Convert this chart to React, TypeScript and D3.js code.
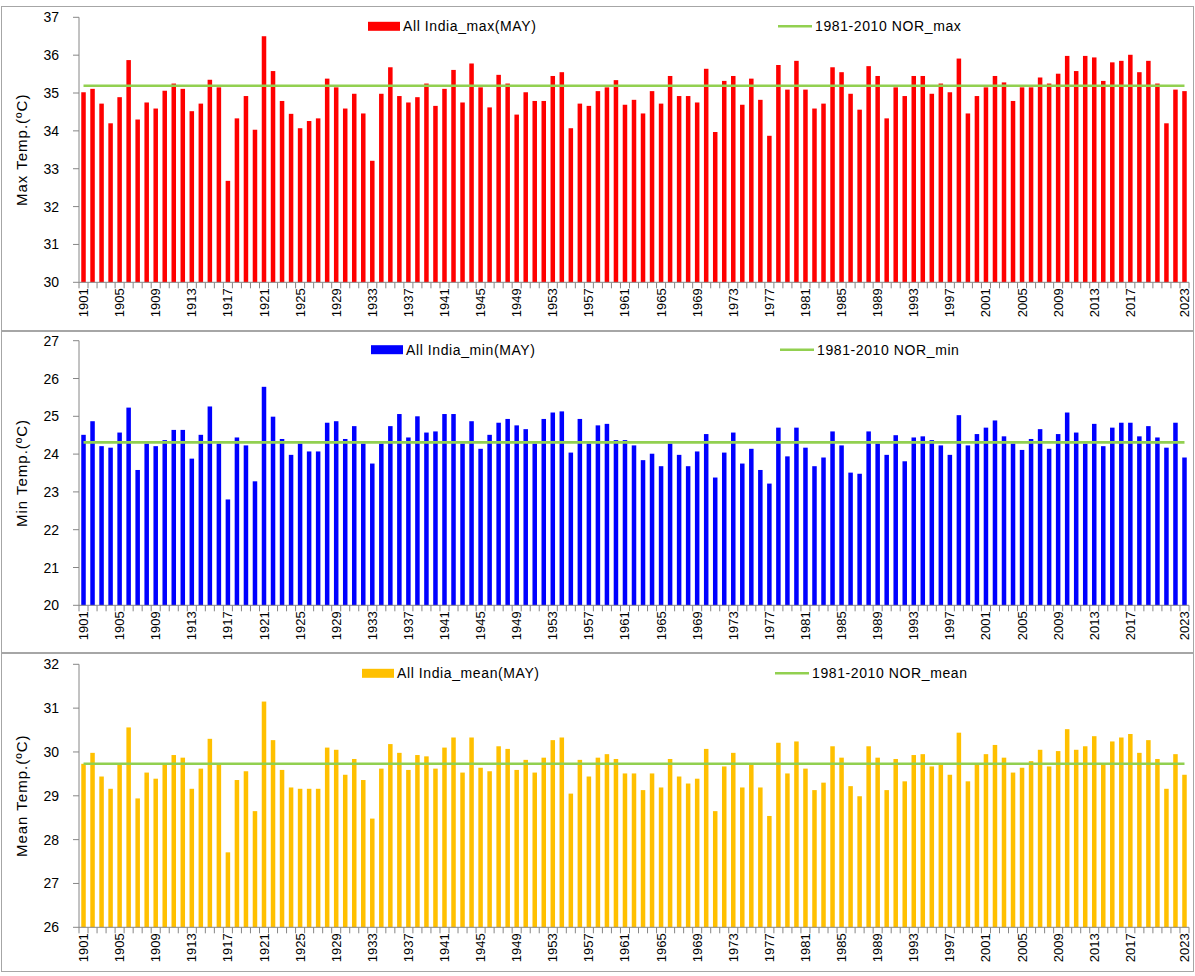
import React from "react";
import * as d3 from "d3";

// ---------- DATA ----------
const YEARS: number[] = d3.range(1901, 2024);

const X_LABEL_YEARS: number[] = [
  1901, 1905, 1909, 1913, 1917, 1921, 1925, 1929, 1933, 1937, 1941, 1945, 1949,
  1953, 1957, 1961, 1965, 1969, 1973, 1977, 1981, 1985, 1989, 1993, 1997, 2001,
  2005, 2009, 2013, 2017, 2023,
];

const MAX_VALUES: number[] = [
  35.02, 35.11, 34.72, 34.2, 34.89, 35.87, 34.3, 34.75, 34.59, 35.06,
  35.25, 35.11, 34.52, 34.72, 35.35, 35.15, 32.68, 34.33, 34.92, 34.03,
  36.5, 35.58, 34.79, 34.45, 34.07, 34.26, 34.33, 35.38, 35.15, 34.59,
  34.98, 34.46, 33.21, 34.98, 35.68, 34.92, 34.75, 34.89, 35.25, 34.66,
  35.11, 35.61, 34.75, 35.78, 35.15, 34.62, 35.48, 35.25, 34.43, 35.02,
  34.79, 34.79, 35.45, 35.55, 34.07, 34.72, 34.66, 35.05, 35.15, 35.34,
  34.69, 34.82, 34.46, 35.05, 34.72, 35.45, 34.92, 34.92, 34.75, 35.64,
  33.97, 35.32, 35.45, 34.69, 35.38, 34.82, 33.87, 35.74, 35.09, 35.85,
  35.09, 34.59, 34.72, 35.68, 35.55, 34.98, 34.56, 35.71, 35.45, 34.33,
  35.15, 34.92, 35.45, 35.45, 34.98, 35.25, 35.02, 35.91, 34.46, 34.92,
  35.15, 35.45, 35.28, 34.79, 35.15, 35.15, 35.41, 35.25, 35.51, 35.98,
  35.58, 35.98, 35.94, 35.32, 35.81, 35.85, 36.01, 35.55, 35.85, 35.25,
  34.2, 35.09, 35.05,
];

const MIN_VALUES: number[] = [
  24.51, 24.87, 24.21, 24.17, 24.57, 25.23, 23.58, 24.28, 24.21, 24.37,
  24.64, 24.64, 23.88, 24.51, 25.26, 24.28, 22.8, 24.44, 24.23, 23.28,
  25.78, 24.99, 24.4, 23.98, 24.28, 24.07, 24.07, 24.83, 24.87, 24.4,
  24.74, 24.28, 23.75, 24.28, 24.74, 25.06, 24.44, 25.0, 24.57, 24.6,
  25.06, 25.06, 24.28, 24.87, 24.14, 24.51, 24.83, 24.93, 24.76, 24.66,
  24.28, 24.93, 25.1, 25.13, 24.04, 24.93, 24.28, 24.76, 24.8, 24.37,
  24.37, 24.23, 23.84, 24.01, 23.68, 24.28, 23.98, 23.68, 24.07, 24.53,
  23.38, 24.04, 24.57, 23.75, 24.14, 23.58, 23.22, 24.7, 23.94, 24.7,
  24.17, 23.68, 23.91, 24.6, 24.23, 23.51, 23.48, 24.6, 24.28, 23.98,
  24.5, 23.81, 24.44, 24.47, 24.37, 24.23, 23.98, 25.03, 24.23, 24.53,
  24.7, 24.89, 24.47, 24.28, 24.11, 24.4, 24.66, 24.14, 24.53, 25.1,
  24.57, 24.28, 24.8, 24.21, 24.7, 24.83, 24.83, 24.47, 24.74, 24.44,
  24.17, 24.83, 23.91,
];

const MEAN_VALUES: number[] = [
  29.73, 29.98, 29.44, 29.16, 29.73, 30.56, 28.94, 29.53, 29.39, 29.73,
  29.93, 29.87, 29.16, 29.62, 30.3, 29.73, 27.71, 29.36, 29.56, 28.65,
  31.15, 30.27, 29.59, 29.19, 29.16, 29.16, 29.16, 30.1, 30.05, 29.48,
  29.84, 29.36, 28.48, 29.62, 30.18, 29.98, 29.59, 29.93, 29.9, 29.62,
  30.1, 30.33, 29.53, 30.33, 29.64, 29.56, 30.13, 30.07, 29.59, 29.82,
  29.53, 29.87, 30.27, 30.33, 29.05, 29.82, 29.44, 29.87, 29.95, 29.84,
  29.51, 29.51, 29.13, 29.51, 29.19, 29.84, 29.44, 29.28, 29.39, 30.07,
  28.65, 29.67, 29.98, 29.19, 29.73, 29.19, 28.54, 30.21, 29.51, 30.24,
  29.62, 29.13, 29.3, 30.13, 29.87, 29.22, 28.99, 30.13, 29.87, 29.13,
  29.84, 29.33, 29.93, 29.95, 29.67, 29.73, 29.48, 30.44, 29.33, 29.73,
  29.95, 30.16, 29.87, 29.53, 29.64, 29.79, 30.05, 29.67, 30.02, 30.52,
  30.05, 30.13, 30.36, 29.73, 30.24, 30.33, 30.41, 29.98, 30.27, 29.84,
  29.16, 29.95, 29.48,
];

const NORMALS: number[] = [35.19, 24.31, 29.73];
const Y_DOMAINS: [number, number][] = [[30, 37], [20, 27], [26, 32]];
const Y_TITLES: string[] = ["Max Temp.(ºC)", "Min Temp.(ºC)", "Mean Temp.(ºC)"];
const BAR_LEGENDS: string[] = ["All India_max(MAY)", "All India_min(MAY)", "All India_mean(MAY)"];
const NOR_LEGENDS: string[] = ["1981-2010 NOR_max", "1981-2010 NOR_min", "1981-2010 NOR_mean"];

// ---------- LAYOUT / STYLE ----------
const W = 1195;
const H = 976;
const FONT = "'Liberation Sans', Arial, sans-serif";
const AXIS = "#868686";
const GREEN = "#92D050";
const COLORS = ["#FF0000", "#0000FF", "#FFC000"];
const PLOT_X0 = 79;
const PLOT_X1 = 1189;

const LAYOUTS = [
  { boxTop: 6.5, boxBottom: 330.5, top: 17.3, bottom: 282.3, swX: 368, norX: 778 },
  { boxTop: 331.5, boxBottom: 652.5, top: 340.7, bottom: 605.3, swX: 371, norX: 780 },
  { boxTop: 653.5, boxBottom: 971.5, top: 664.3, bottom: 927.3, swX: 362, norX: 775 },
];

const SERIES = [MAX_VALUES, MIN_VALUES, MEAN_VALUES];

function Panel({ idx }: { idx: number }) {
  const L = LAYOUTS[idx];
  const values = SERIES[idx];
  const color = COLORS[idx];
  const x = d3
    .scaleBand<number>()
    .domain(YEARS)
    .range([PLOT_X0, PLOT_X1])
    .paddingInner(0.5)
    .paddingOuter(0.25);
  const step = x.step();
  const y = d3.scaleLinear().domain(Y_DOMAINS[idx]).range([L.bottom, L.top]);
  const yTicks = d3.range(Y_DOMAINS[idx][0], Y_DOMAINS[idx][1] + 1);
  const bw = x.bandwidth();
  const cx = (yr: number) => (x(yr) as number) + bw / 2;
  const firstC = cx(YEARS[0]);
  const lastC = cx(YEARS[YEARS.length - 1]);
  const legY = L.top + 9;

  return (
    <g>
      <rect
        x={1.5}
        y={L.boxTop}
        width={W - 3}
        height={L.boxBottom - L.boxTop}
        fill="#fff"
        stroke="#A6A6A6"
        strokeWidth={1}
      />
      {/* bars */}
      {values.map((v, i) => (
        <rect
          key={i}
          x={x(YEARS[i]) as number}
          y={y(v)}
          width={bw}
          height={L.bottom - y(v)}
          fill={color}
        />
      ))}
      {/* normal line */}
      <line
        x1={firstC}
        x2={lastC}
        y1={y(NORMALS[idx])}
        y2={y(NORMALS[idx])}
        stroke={GREEN}
        strokeWidth={2.6}
      />
      {/* y axis */}
      <line x1={PLOT_X0} x2={PLOT_X0} y1={L.top} y2={L.bottom} stroke={AXIS} strokeWidth={1} />
      {yTicks.map((t) => (
        <g key={t}>
          <line x1={PLOT_X0 - 6} x2={PLOT_X0} y1={y(t)} y2={y(t)} stroke={AXIS} />
          <text
            x={PLOT_X0 - 20}
            y={y(t)}
            textAnchor="end"
            dominantBaseline="central"
            fontSize={14}
            fontFamily={FONT}
            fill="#000"
          >
            {t}
          </text>
        </g>
      ))}
      <text
        transform={`translate(21,${(L.top + L.bottom) / 2}) rotate(-90)`}
        textAnchor="middle"
        dominantBaseline="central"
        fontSize={15}
        letterSpacing={1}
        fontFamily={FONT}
        fill="#000"
      >
        {Y_TITLES[idx]}
      </text>
      {/* x axis */}
      <line x1={PLOT_X0} x2={PLOT_X1} y1={L.bottom} y2={L.bottom} stroke={AXIS} strokeWidth={1} />
      {d3.range(YEARS.length + 1).map((i) => (
        <line
          key={i}
          x1={PLOT_X0 + i * step}
          x2={PLOT_X0 + i * step}
          y1={L.bottom}
          y2={L.bottom + 6}
          stroke={AXIS}
        />
      ))}
      {X_LABEL_YEARS.map((yr) => (
        <text
          key={yr}
          transform={`translate(${cx(yr)},${L.bottom + 6}) rotate(-90)`}
          textAnchor="end"
          dominantBaseline="central"
          fontSize={13}
          fontFamily={FONT}
          fill="#000"
        >
          {yr}
        </text>
      ))}
      {/* legend */}
      <rect x={L.swX} y={legY - 4.5} width={32} height={9} fill={color} />
      <text
        x={L.swX + 35}
        y={legY}
        dominantBaseline="central"
        fontSize={14}
        letterSpacing={0.6}
        fontFamily={FONT}
        fill="#000"
      >
        {BAR_LEGENDS[idx]}
      </text>
      <line x1={L.norX} x2={L.norX + 34} y1={legY} y2={legY} stroke={GREEN} strokeWidth={2.6} />
      <text
        x={L.norX + 37}
        y={legY}
        dominantBaseline="central"
        fontSize={14}
        letterSpacing={0.6}
        fontFamily={FONT}
        fill="#000"
      >
        {NOR_LEGENDS[idx]}
      </text>
    </g>
  );
}

export default function App() {
  return (
    <svg
      width={W}
      height={H}
      style={{ position: "absolute", left: 0, top: 0, background: "#fff" }}
    >
      <rect x={0} y={0} width={W} height={H} fill="#fff" />
      <Panel idx={0} />
      <Panel idx={1} />
      <Panel idx={2} />
    </svg>
  );
}
